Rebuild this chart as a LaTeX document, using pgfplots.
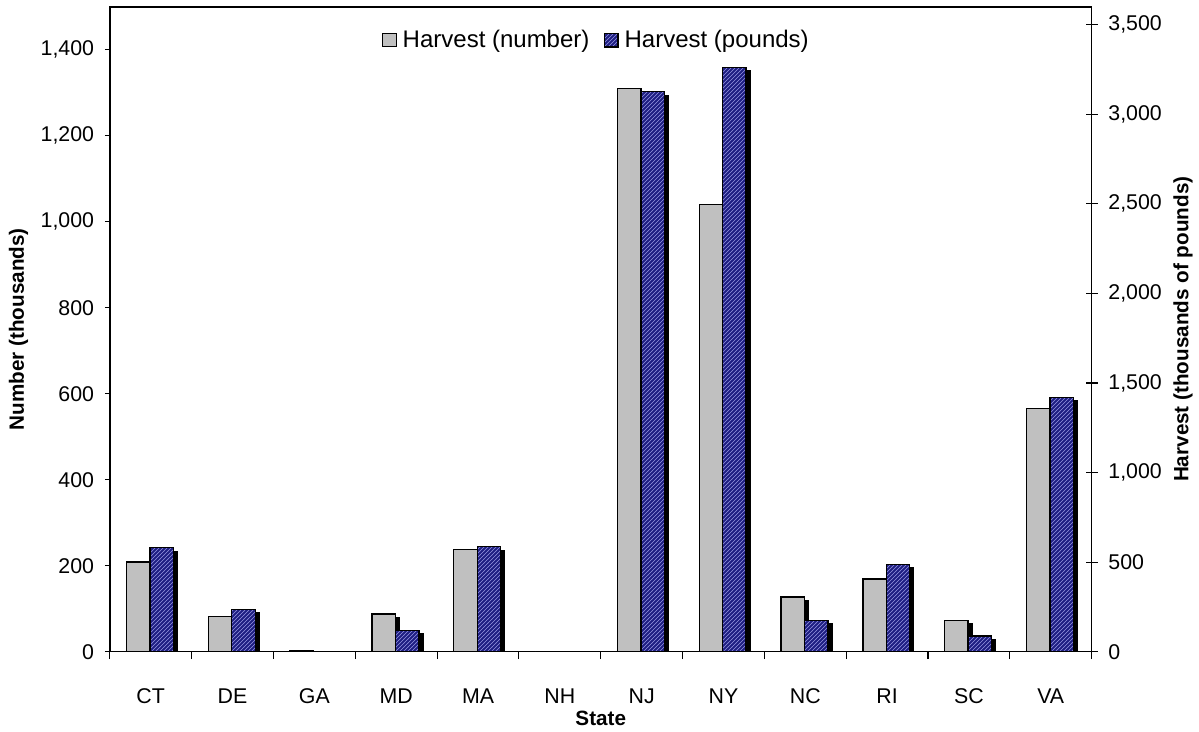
\documentclass[border=0pt]{standalone}
\usepackage{fontspec}
\setmainfont{Liberation Sans}
\usepackage{pgfplots}
\usepackage{pgfplotstable}
\pgfplotsset{compat=1.18}
\usetikzlibrary{patterns}
\definecolor{bargray}{RGB}{192,192,192}
\definecolor{navy}{RGB}{30,30,130}
\definecolor{hatch}{RGB}{150,150,225}

\pgfplotstableread{
x num lbs
0 209 580
1 82 236
2 3 2
3 88 120
4 238 586
5 0 0
6 1310 3125
7 1040 3262
8 127 176
9 169 486
10 73 88
11 566 1419
}\data

\begin{document}
\begin{tikzpicture}
\useasboundingbox (-82.35pt,-59.5pt) rectangle (816.9pt,488.8pt);
\pgfplotsset{
  common/.style={
    scale only axis, width=736.4pt, height=483.75pt,
    at={(0,0)}, anchor=south west,
    xmin=-0.5, xmax=11.5, ymin=0,
    ybar, bar width=17.6pt,
    /pgf/number format/1000 sep={,},
    /pgf/number format/assume math mode=true,
    scaled y ticks=false,
    tick label style={font=\fontsize{16}{19}\selectfont},
    label style={font=\bfseries\fontsize{15.5}{18}\selectfont},
    axis line style={line width=1.1pt},
    every tick/.style={black, line width=0.8pt},
  },
  shadow/.style={preaction={fill=black, transform canvas={xshift=3pt, yshift=-2.6pt}}},
}
\begin{axis}[common,
  ymax=1500, ytick={0,200,...,1400},
  tick pos=left, tick align=outside,
  major tick length=3.75pt, minor tick length=5.5pt,
  xtick={0,...,11},
  xticklabels={CT,DE,GA,MD,MA,NH,NJ,NY,NC,RI,SC,VA},
  minor xtick={-0.5,0.5,...,11.5},
  major x tick style={draw=none},
  xticklabel style={yshift=-20pt, text height=11.5pt, text depth=0pt},
  yticklabel style={xshift=-4.5pt},
  ylabel={Number (thousands)},
  xlabel={State},
  ylabel style={at={(axis description cs:-0.093,0.5)}, anchor=center},
  xlabel style={at={(axis description cs:0.5,-0.103)}, anchor=center},
]
\addplot[forget plot, bar shift=-9.4pt, fill=bargray, draw=black, line width=1pt, shadow] table[x=x, y=num] {\data};
\end{axis}
\begin{axis}[common,
  ymax=3600, ytick={0,500,...,3500},
  hide x axis,
  axis y line*=right,
  axis line style={-},
  ytick align=center, major tick length=9pt,
  yticklabel style={xshift=4.5pt},
  ylabel={Harvest (thousands of pounds)},
  ylabel style={at={(axis description cs:1.093,0.5)}, anchor=center},
  legend style={at={(0.496,0.948)}, anchor=center, draw=none, fill=none,
    legend columns=2, font=\fontsize{18}{21}\selectfont,
    /tikz/every even column/.append style={column sep=9pt}},
]
\addlegendimage{legend image code/.code={\draw[fill=bargray, draw=black, line width=0.8pt] (0pt,-5pt) rectangle (10pt,5pt); \draw[draw=none] (0pt,0pt) -- (13pt,0pt);}}
\addlegendentry{Harvest (number)}
\addlegendimage{legend image code/.code={\draw[preaction={fill=navy}, pattern=north east lines, pattern color=hatch, draw=black, line width=0.8pt] (0pt,-5pt) rectangle (10pt,5pt); \draw[draw=none] (0pt,0pt) -- (13pt,0pt);}}
\addlegendentry{Harvest (pounds)}
\addplot[forget plot, bar shift=8.2pt, draw=black, line width=1pt, shadow, preaction={fill=navy}, pattern=north east lines, pattern color=hatch] table[x=x, y=lbs] {\data};
\end{axis}
\fill[black] (-0.55pt,482.6pt) rectangle (736.95pt,484.3pt);
\end{tikzpicture}
\end{document}
